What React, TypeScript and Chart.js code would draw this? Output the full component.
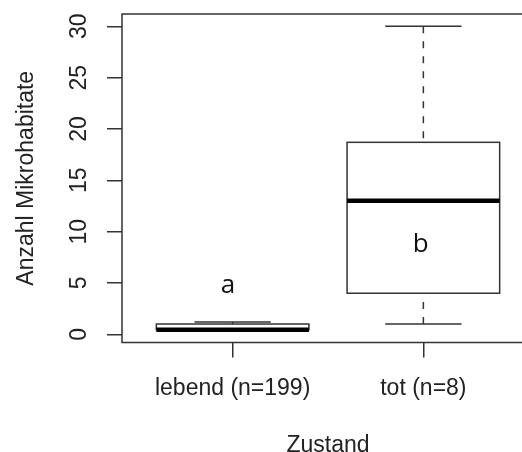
import React, { useEffect, useRef } from "react";
import { Chart, registerables } from "chart.js";

Chart.register(...registerables);

// ---- data ----
const categories = ["lebend (n=199)", "tot (n=8)"];
const whiskerLow = [0.45, 1];
const q1 = [0.45, 4];
const median = [0.45, 13];
const q3 = [1, 18.7];
const whiskerHigh = [1.2, 30];
const letters = ["a", "b"];
const letterX = [0.975, 1.986];
const letterY = [4, 8];
const yTickStep = 5;
const yTitle = "Anzahl Mikrohabitate";
const xTitle = "Zustand";

const W = 600;
const H = 470;
const PLOT_RIGHT = 534;
const PLOT_BOTTOM = 342.5;
const LINE = "#333";
const TEXT = "#222";
const FONT = { family: "'Liberation Sans', Arial, sans-serif", size: 23 };

const boxPlugin = {
  id: "rbox",
  afterDatasetsDraw(chart: any) {
    const { ctx, chartArea, scales } = chart;
    const xs = scales.x;
    const ys = scales.y;
    ctx.save();
    const seg = (x1: number, y1: number, x2: number, y2: number) => {
      ctx.beginPath();
      ctx.moveTo(x1, y1);
      ctx.lineTo(x2, y2);
      ctx.stroke();
    };
    categories.forEach((_, i) => {
      const cx = xs.getPixelForValue(i + 1);
      const half = xs.getPixelForValue(i + 1.4) - cx;
      const capHalf = half / 2;
      const yHi = ys.getPixelForValue(whiskerHigh[i]);
      const yLo = ys.getPixelForValue(whiskerLow[i]);
      const yQ1 = ys.getPixelForValue(q1[i]);
      const yQ3 = ys.getPixelForValue(q3[i]);
      const yMed = ys.getPixelForValue(median[i]);
      ctx.strokeStyle = LINE;
      ctx.lineWidth = 1.5;
      ctx.lineCap = "butt";
      // dashed whiskers (drawn from whisker end towards box)
      ctx.setLineDash([7, 8]);
      seg(cx, yHi, cx, yQ3);
      seg(cx, yLo, cx, yQ1);
      ctx.setLineDash([]);
      // caps
      seg(cx - capHalf, yHi, cx + capHalf, yHi);
      seg(cx - capHalf, yLo, cx + capHalf, yLo);
      // box
      ctx.fillStyle = "#fff";
      ctx.fillRect(cx - half, yQ3, half * 2, yQ1 - yQ3);
      ctx.strokeRect(cx - half, yQ3, half * 2, yQ1 - yQ3);
      // median
      ctx.strokeStyle = "#000";
      ctx.lineWidth = 4.5;
      seg(cx - half, yMed, cx + half, yMed);
    });
    // plot frame (right side lies beyond the visible area)
    ctx.strokeStyle = LINE;
    ctx.lineWidth = 1.5;
    ctx.beginPath();
    ctx.moveTo(chartArea.right, chartArea.top);
    ctx.lineTo(chartArea.left, chartArea.top);
    ctx.lineTo(chartArea.left, chartArea.bottom);
    ctx.lineTo(chartArea.right, chartArea.bottom);
    ctx.stroke();
    // letters
    ctx.fillStyle = "#111";
    ctx.font = "26px 'Open Sans', sans-serif";
    ctx.textAlign = "center";
    ctx.textBaseline = "alphabetic";
    letters.forEach((t, i) => {
      ctx.fillText(t, xs.getPixelForValue(letterX[i]), ys.getPixelForValue(letterY[i]));
    });
    ctx.restore();
  },
};

export default function App() {
  const ref = useRef<HTMLCanvasElement | null>(null);
  useEffect(() => {
    if (!ref.current) return;
    const chart = new Chart(ref.current, {
      type: "scatter",
      data: {
        datasets: [
          {
            data: categories.map((_, i) => ({ x: i + 1, y: median[i] })),
            pointRadius: 0,
            showLine: false,
          },
        ],
      },
      options: {
        animation: false,
        responsive: false,
        devicePixelRatio: 1,
        layout: { padding: { top: 14, left: 0, right: W - PLOT_RIGHT, bottom: 0 } },
        plugins: { legend: { display: false }, tooltip: { enabled: false } },
        scales: {
          x: {
            type: "linear",
            min: 0.42,
            max: 2.58,
            afterBuildTicks: (s: any) => {
              s.ticks = categories.map((_, i) => ({ value: i + 1 }));
            },
            afterFit: (s: any) => {
              s.height = H - PLOT_BOTTOM;
              s.paddingLeft = 0;
              s.paddingRight = 0;
            },
            ticks: {
              callback: (v: any) => categories[Math.round(Number(v)) - 1] ?? "",
              font: FONT,
              color: TEXT,
              padding: 17,
              maxRotation: 0,
              minRotation: 0,
              autoSkip: false,
            },
            grid: { drawOnChartArea: false, drawTicks: true, tickLength: 15, color: LINE, lineWidth: 1.5 },
            border: { display: false },
            title: { display: true, text: xTitle, font: FONT, color: TEXT, padding: { top: 0, bottom: 11 } },
          },
          y: {
            type: "linear",
            min: -0.8,
            max: 31.2,
            afterFit: (s: any) => {
              s.width = 122;
              s.paddingTop = 0;
              s.paddingBottom = 0;
            },
            ticks: {
              stepSize: yTickStep,
              includeBounds: false,
              minRotation: 90,
              maxRotation: 90,
              crossAlign: "center",
              padding: 15,
              font: FONT,
              color: TEXT,
            },
            grid: { drawOnChartArea: false, drawTicks: true, tickLength: 15, color: LINE, lineWidth: 1.5 },
            border: { display: false },
            title: { display: true, text: yTitle, font: FONT, color: TEXT, padding: { top: 13, bottom: 0 } },
          },
        },
      } as any,
      plugins: [boxPlugin],
    });
    return () => chart.destroy();
  }, []);
  return (
    <div
      style={{
        position: "fixed",
        left: 0,
        top: 0,
        width: 522,
        height: 452,
        overflow: "hidden",
        background: "#fff",
      }}
    >
      <canvas ref={ref} width={W} height={H} style={{ display: "block", width: W, height: H }} />
    </div>
  );
}
